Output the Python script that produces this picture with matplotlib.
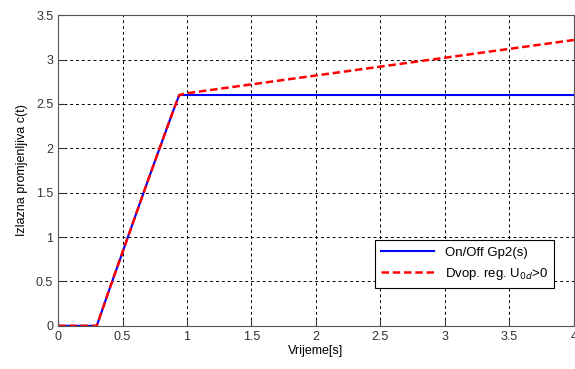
import matplotlib
matplotlib.use("Agg")
import matplotlib.pyplot as plt

# time axis points and responses
t_blue = [0.0, 0.3, 0.4, 0.5, 0.6, 0.7, 0.8, 0.9, 0.94, 4.0]
c_blue = [0.0, 0.0, 0.42, 0.83, 1.24, 1.65, 2.05, 2.45, 2.6, 2.6]

t_red = [0.0, 0.3, 0.4, 0.5, 0.6, 0.7, 0.8, 0.9, 0.94, 1.0, 1.5, 2.0, 2.5, 3.0, 3.5, 4.0]
c_red = [0.0, 0.0, 0.42, 0.83, 1.24, 1.65, 2.05, 2.45, 2.6, 2.62, 2.72, 2.82, 2.92, 3.02, 3.12, 3.22]

xticks = [0, 0.5, 1, 1.5, 2, 2.5, 3, 3.5, 4]
yticks = [0, 0.5, 1, 1.5, 2, 2.5, 3, 3.5]

plt.rcParams['font.family'] = ['Liberation Sans', 'DejaVu Sans']

fig = plt.figure(figsize=(5.75, 3.69), dpi=100)
ax = fig.add_axes([0.101, 0.117, 0.897, 0.842])

ax.plot(t_blue, c_blue, color='#0000ff', lw=1.5, label='On/Off Gp2(s)')
ax.plot(t_red, c_red, color='#ff0000', lw=1.8, ls=(0, (3, 1.5)),
        label='Dvop. reg. U$_{0d}$>0')

ax.set_xlim(0, 4)
ax.set_ylim(0, 3.5)
ax.set_xticks(xticks)
ax.set_yticks(yticks)
ax.set_xticklabels([f'{v:g}' for v in xticks])
ax.set_yticklabels([f'{v:g}' for v in yticks])
ax.grid(True, color='black', ls=(0, (3, 3)), lw=0.7)
ax.tick_params(labelsize=9, direction='in', length=4, colors='#333333')
for s in ax.spines.values():
    s.set_color('#555555')

ax.set_xlabel('Vrijeme[s]', fontsize=9, labelpad=2)
ax.set_ylabel('Izlazna promjenljiva c(t)', fontsize=9, labelpad=6)

leg = ax.legend(loc='lower right', bbox_to_anchor=(0.975, 0.10), fontsize=9.5,
                fancybox=False, framealpha=1, edgecolor='black', handlelength=4,
                borderpad=0.5, labelspacing=0.5)
leg.get_frame().set_linewidth(0.8)

fig.savefig('out.png', dpi=100)
